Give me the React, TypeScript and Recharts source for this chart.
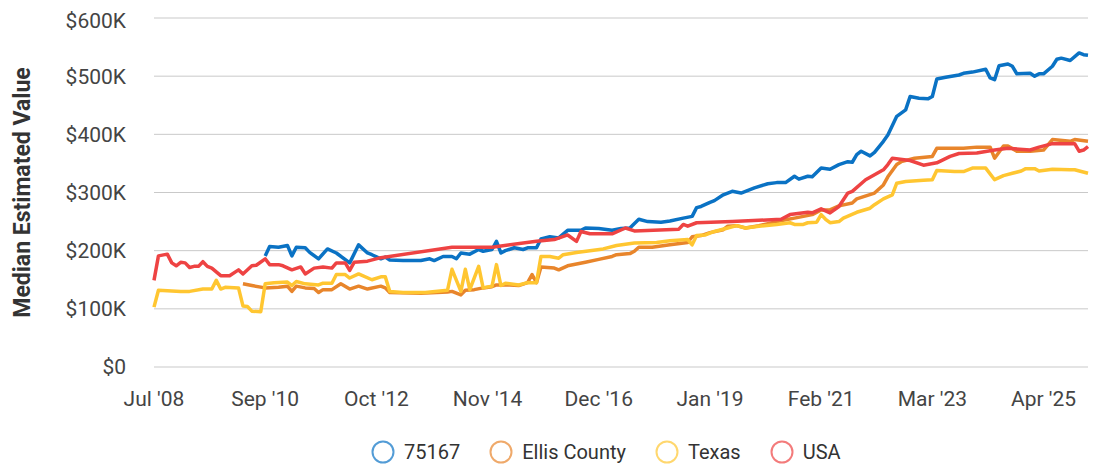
import { LineChart, Line, XAxis, YAxis, CartesianGrid } from 'recharts';

// x = months since Jul '08
const tickIdx = [0, 25, 50, 75, 100, 125, 150, 175, 200];
const tickLabels = ["Jul '08", "Sep '10", "Oct '12", "Nov '14", "Dec '16", "Jan '19", "Feb '21", "Mar '23", "Apr '25"];
const yTicks = [0, 100000, 200000, 300000, 400000, 500000, 600000];

// [month, value in $K]
const zip75167 = [
  [25, 191], [26, 207], [28, 206], [30, 209], [31, 191], [32, 206], [34, 205], [35, 197], [37, 186], [39, 203],
  [41, 196], [44, 179], [46, 210], [48, 196], [49, 193], [51, 186], [52, 189], [53, 184], [56, 183], [60, 183],
  [62, 186], [63, 183], [65, 190], [67, 190], [68, 186], [69, 196], [71, 194], [73, 202], [74, 199], [76, 202],
  [77, 216], [78, 196], [79, 200], [81, 205], [83, 202], [84, 205], [86, 205], [87, 220], [89, 224], [91, 222],
  [93, 235], [96, 235], [97, 239], [100, 238], [103, 235], [105, 238], [107, 239], [109, 254], [111, 250], [114, 249],
  [116, 251], [119, 256], [121, 259], [122, 274], [123, 276], [125, 283], [126, 286], [128, 296], [130, 302], [132, 299],
  [135, 308], [138, 315], [140, 317], [142, 317], [144, 328], [145, 323], [147, 328], [148, 327], [150, 342], [152, 340],
  [154, 348], [156, 353], [157, 352], [158, 365], [159, 371], [161, 363], [162, 369], [164, 388], [165, 399], [167, 431],
  [169, 442], [170, 465], [172, 462], [174, 461], [175, 465], [176, 495], [178, 498], [181, 502], [182, 505], [184, 507],
  [187, 512], [188, 497], [189, 494], [190, 518], [192, 521], [193, 517], [194, 504], [197, 505], [198, 500], [199, 504],
  [200, 504], [202, 517], [203, 529], [204, 531], [206, 527], [208, 540], [209, 537], [210, 536],
];

const ellisCounty = [
  [20, 143], [22, 140], [25, 136], [28, 137], [30, 139], [31, 130], [32, 139], [34, 136], [36, 135], [37, 128],
  [38, 133], [40, 133], [42, 143], [44, 134], [46, 139], [48, 134], [51, 139], [52, 136], [53, 128], [60, 127],
  [66, 129], [67, 130], [69, 124], [70, 132], [72, 133], [74, 136], [76, 138], [77, 141], [80, 141], [82, 140],
  [84, 145], [85, 159], [86, 145], [87, 172], [90, 170], [91, 167], [93, 174], [97, 180], [100, 185], [103, 190],
  [104, 193], [107, 195], [108, 199], [109, 206], [112, 206], [116, 210], [120, 214], [121, 224], [123, 226], [125, 231],
  [128, 236], [129, 242], [131, 243], [133, 239], [136, 243], [140, 250], [142, 253], [144, 256], [146, 259], [148, 262],
  [150, 270], [152, 270], [154, 277], [157, 282], [158, 289], [162, 299], [164, 313], [165, 327], [167, 348], [168, 353],
  [171, 359], [175, 362], [176, 376], [182, 376], [185, 378], [188, 378], [189, 359], [191, 380], [192, 380], [194, 371],
  [197, 371], [200, 373], [202, 391], [206, 388], [207, 391], [210, 388],
];

const texas = [
  [0, 103], [1, 132], [6, 130], [8, 130], [11, 134], [13, 134], [14, 149], [15, 134], [16, 137], [19, 136],
  [20, 105], [21, 104], [22, 96], [24, 95], [25, 143], [27, 145], [30, 146], [31, 140], [32, 147], [34, 143],
  [37, 141], [38, 144], [40, 144], [41, 159], [43, 159], [44, 153], [46, 160], [49, 150], [51, 155], [52, 155],
  [53, 130], [56, 128], [61, 128], [66, 132], [67, 168], [69, 130], [70, 168], [71, 133], [73, 173], [74, 136],
  [76, 139], [77, 176], [78, 140], [79, 144], [82, 141], [84, 145], [86, 145], [87, 190], [89, 190], [91, 187],
  [92, 193], [95, 197], [98, 200], [101, 203], [104, 209], [108, 213], [113, 214], [116, 217], [120, 219], [121, 210],
  [122, 226], [124, 227], [126, 233], [129, 239], [131, 243], [133, 239], [136, 242], [140, 245], [143, 248], [144, 245],
  [146, 245], [147, 248], [149, 249], [150, 262], [151, 254], [152, 248], [154, 250], [155, 256], [158, 266], [161, 273],
  [162, 279], [164, 289], [166, 296], [167, 316], [169, 319], [173, 321], [175, 322], [176, 338], [180, 336], [182, 336],
  [184, 342], [187, 342], [189, 322], [191, 329], [193, 333], [195, 337], [196, 341], [198, 341], [199, 337], [202, 340],
  [206, 339], [207, 339], [210, 333],
];

const usa = [
  [0, 149], [1, 191], [3, 194], [4, 179], [5, 174], [6, 180], [7, 179], [8, 171], [9, 173], [10, 173],
  [11, 181], [12, 173], [13, 170], [15, 157], [17, 157], [19, 167], [20, 160], [22, 174], [23, 175], [25, 186],
  [26, 176], [28, 176], [29, 174], [31, 167], [33, 172], [34, 160], [36, 170], [38, 172], [40, 170], [41, 179],
  [43, 179], [44, 166], [45, 180], [48, 182], [51, 188], [67, 206], [76, 206], [86, 216], [90, 219], [93, 227],
  [95, 216], [96, 233], [98, 229], [103, 229], [106, 239], [108, 234], [118, 237], [119, 245], [120, 242], [122, 248],
  [130, 250], [141, 254], [143, 262], [147, 266], [148, 265], [150, 272], [152, 265], [154, 276], [156, 299], [157, 302],
  [160, 322], [164, 339], [165, 348], [166, 359], [170, 355], [173, 347], [176, 351], [179, 362], [181, 367], [185, 368],
  [189, 373], [192, 376], [197, 373], [199, 378], [202, 384], [207, 384], [208, 371], [209, 373], [210, 379],
];

const series = [
  { name: '75167', points: zip75167, color: '#0A72C4' },
  { name: 'Ellis County', points: ellisCounty, color: '#E8852B' },
  { name: 'Texas', points: texas, color: '#FFC631' },
  { name: 'USA', points: usa, color: '#EE4343' },
];

const toRows = (pts: number[][]) => pts.map(([m, v]) => ({ m, v: v * 1000 }));

const fmtY = (v: number) => (v === 0 ? '$0' : `$${v / 1000}K`);
const fmtX = (v: number) => tickLabels[tickIdx.indexOf(v)] ?? '';

const FONT = 'Roboto, "Noto Sans", sans-serif';

export default function App() {
  return (
    <div style={{ position: 'relative', width: 1081, height: 460, fontFamily: FONT }}>
      <LineChart width={1081} height={452} margin={{ top: 10, right: 1, left: 0, bottom: 53 }}>
        <CartesianGrid vertical={false} stroke="#c9c9c9" />
        <XAxis
          type="number"
          dataKey="m"
          domain={[0, 210]}
          ticks={tickIdx}
          tickFormatter={fmtX}
          axisLine={false}
          tickLine={false}
          tickMargin={18}
          height={40}
          tick={{ fontSize: 21, fill: '#444', fontFamily: FONT }}
          allowDuplicatedCategory={false}
        />
        <YAxis
          domain={[0, 600000]}
          ticks={yTicks}
          tickFormatter={fmtY}
          axisLine={false}
          tickLine={false}
          tickMargin={22}
          width={146}
          tick={{ fontSize: 21, fill: '#444', fontFamily: FONT }}
          label={{
            value: 'Median Estimated Value',
            angle: -90,
            position: 'insideLeft',
            offset: 14,
            style: { textAnchor: 'middle', fontSize: 23, fontWeight: 700, fill: '#333', fontFamily: FONT },
          }}
        />
        {series.map((s) => (
          <Line
            key={s.name}
            data={toRows(s.points)}
            dataKey="v"
            name={s.name}
            type="linear"
            stroke={s.color}
            strokeWidth={3.5}
            strokeLinejoin="round"
            dot={false}
            isAnimationActive={false}
          />
        ))}
      </LineChart>
      <div
        style={{
          position: 'absolute',
          left: 363,
          top: 432,
          height: 24,
          display: 'flex',
          alignItems: 'center',
          gap: 29,
          fontSize: 20,
          color: '#333',
        }}
      >
        {series.map((s) => (
          <div key={s.name} style={{ display: 'flex', alignItems: 'center', gap: 9 }}>
            <svg width={24} height={24}>
              <circle cx={12} cy={12} r={10.5} fill="none" stroke={s.color} strokeOpacity={0.7} strokeWidth={2} />
            </svg>
            <span>{s.name}</span>
          </div>
        ))}
      </div>
    </div>
  );
}
